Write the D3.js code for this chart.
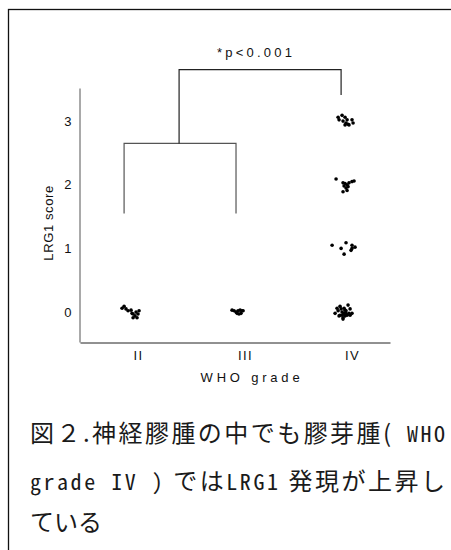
<!DOCTYPE html>
<html><head><meta charset="utf-8">
<script src="https://cdn.jsdelivr.net/npm/d3@7"></script>
<style>
html,body{margin:0;padding:0;background:#fff;}
svg{display:block;}
</style></head>
<body>
<script>
// ---- data ----
const categories = ["II", "III", "IV"];
const yTicks = [0, 1, 2, 3];
// each point: [category jitter (in category units), LRG1 score (with vertical jitter)]
const pointsII = [[-0.084,0.06],[-0.065,0.09],[-0.047,0.05],[-0.028,0.02],[0.009,-0.02],[0.019,-0.03],[0.047,0.00],[0.065,-0.03],[0.037,-0.06],[0.019,-0.09],[0.056,-0.09],[0.075,0.02],[0.000,0.03]];
const pointsIII = [[-0.056,0.03],[-0.037,0.02],[-0.019,0.00],[0.000,0.02],[0.019,0.03],[0.037,0.02],[-0.009,-0.02],[0.009,-0.03],[0.028,-0.02],[0.047,0.02]];
const pointsIV_3 = [[-0.065,3.06],[-0.028,3.09],[0.000,3.06],[-0.056,3.02],[-0.019,3.00],[0.019,3.02],[0.009,2.97],[0.028,2.95],[0.037,2.94],[0.065,3.02],[0.075,2.97],[0.000,2.94]];
const pointsIV_2 = [[-0.084,2.09],[-0.019,2.03],[0.000,2.02],[0.019,2.00],[0.037,2.03],[0.065,2.05],[0.084,2.06],[0.028,1.97],[0.009,1.95],[-0.019,1.89],[0.019,1.91],[-0.009,1.98]];
const pointsIV_1 = [[-0.121,1.05],[-0.037,1.00],[0.009,1.09],[0.065,1.05],[0.093,1.02],[0.056,0.97],[0.065,1.00],[-0.009,0.91]];
const pointsIV_0 = [[-0.093,-0.02],[-0.065,0.02],[-0.047,0.09],[-0.009,0.06],[0.028,0.11],[0.047,0.05],[0.065,-0.02],[0.009,0.02],[-0.028,0.00],[-0.009,-0.03],[-0.047,-0.05],[0.000,-0.06],[-0.019,-0.09],[0.019,-0.05],[0.037,-0.02],[-0.056,-0.06],[0.000,0.03],[-0.019,-0.11],[0.047,-0.05],[-0.075,0.06],[0.009,-0.02],[-0.037,0.05],[-0.009,-0.02],[-0.028,-0.05],[0.000,-0.03]];
// significance brackets (x in category index units, y in score units)
const lowerBracket = {x1: -0.065, x2: 0.981, legBottom: 1.55, top: 2.65};
const upperBracket = {x1: 0.449, x2: 1.963, leftBottom: 2.65, rightBottom: 3.41, top: 3.81};
const pLabel = "*p<0.001";
const xTitle = "WHO grade";
const yTitle = "LRG1 score";
// caption: segments, flagged true for half-width latin runs
const captionLines = [
  [["図２.神経膠腫の中でも膠芽腫(", false], [" WHO", true]],
  [["grade IV )", true], [" では", false], ["LRG1", true], [" 発現が上昇し", false]],
  [["ている", false]]
];

// ---- chart ----
const W = 451, H = 550;
const SANS = "'Liberation Sans', Arial, Helvetica, sans-serif";
const CJK = "'Noto Sans CJK JP', sans-serif";
const MONO = "'Noto Sans Mono CJK JP', 'Liberation Mono', monospace";
const svg = d3.select("body").append("svg").attr("width", W).attr("height", H);

// frame
svg.append("rect").attr("x", 8.5).attr("y", 9.5).attr("width", W + 20).attr("height", H + 20)
  .attr("fill", "none").attr("stroke", "#111").attr("stroke-width", 1.3);

const x = d3.scaleLinear().domain([-0.477, 2.42]).range([80, 390]);
const y = d3.scaleLinear().domain([-0.47, 3.52]).range([342, 88]);

// y axis
const gy = svg.append("g").attr("transform", "translate(79.5,0)")
  .call(d3.axisLeft(y).tickValues(yTicks).tickSize(0).tickPadding(8).tickFormat(d3.format("d")));
gy.select(".domain").attr("stroke", "#555");
gy.selectAll("text").attr("font-family", SANS).attr("font-size", 13).attr("fill", "#111");

// x axis
const gx = svg.append("g").attr("transform", "translate(0,342.5)")
  .call(d3.axisBottom(x).tickValues([0, 1, 2]).tickSize(0).tickPadding(8).tickFormat((d) => categories[d]));
gx.select(".domain").attr("stroke", "#222");
gx.selectAll("text").attr("font-family", SANS).attr("font-size", 13)
  .attr("fill", "#111").attr("dx", 7).style("letter-spacing", "1.5px");

// axis titles
svg.append("text").attr("x", 252).attr("y", 382).attr("text-anchor", "middle")
  .attr("font-family", SANS).attr("font-size", 13).attr("fill", "#111")
  .style("letter-spacing", "3.8px").text(xTitle);
svg.append("text").attr("transform", "translate(53," + y(1.4) + ") rotate(-90)").attr("text-anchor", "middle")
  .attr("font-family", SANS).attr("font-size", 13).attr("fill", "#111")
  .style("letter-spacing", "0.6px").text(yTitle);

// brackets
const lb = lowerBracket, ub = upperBracket;
svg.append("path").attr("fill", "none").attr("stroke", "#555").attr("stroke-width", 1.2)
  .attr("d", `M${x(lb.x1)},${y(lb.legBottom)}V${y(lb.top)}H${x(lb.x2)}V${y(lb.legBottom)}`);
svg.append("path").attr("fill", "none").attr("stroke", "#222").attr("stroke-width", 1.2)
  .attr("d", `M${x(ub.x1)},${y(ub.leftBottom)}V${y(ub.top)}H${x(ub.x2)}V${y(ub.rightBottom)}`);
svg.append("text").attr("x", (x(ub.x1) + x(ub.x2)) / 2 - 4).attr("y", 57).attr("text-anchor", "middle")
  .attr("font-family", SANS).attr("font-size", 13).attr("fill", "#111")
  .style("letter-spacing", "3.2px").text(pLabel);

// points
const groups = [
  {cat: 0, pts: pointsII}, {cat: 1, pts: pointsIII},
  {cat: 2, pts: pointsIV_3}, {cat: 2, pts: pointsIV_2}, {cat: 2, pts: pointsIV_1}, {cat: 2, pts: pointsIV_0}
];
groups.forEach((g) => {
  svg.append("g").selectAll("circle").data(g.pts).join("circle")
    .attr("cx", (d) => x(g.cat + d[0])).attr("cy", (d) => y(d[1]))
    .attr("r", 1.8).attr("fill", "#000");
});

// caption
const capY = [442, 490, 531];
captionLines.forEach((segs, i) => {
  const tx = svg.append("text").attr("x", 30).attr("y", capY[i])
    .attr("font-family", CJK).attr("font-size", 24).attr("fill", "#1a1a1a");
  segs.forEach(([t, latin]) => {
    const ts = tx.append("tspan").text(t);
    if (latin) ts.attr("font-family", MONO).attr("font-size", 22);
  });
  if (i < 2) tx.attr("textLength", 415).attr("lengthAdjust", "spacing");
});
</script>
</body></html>
